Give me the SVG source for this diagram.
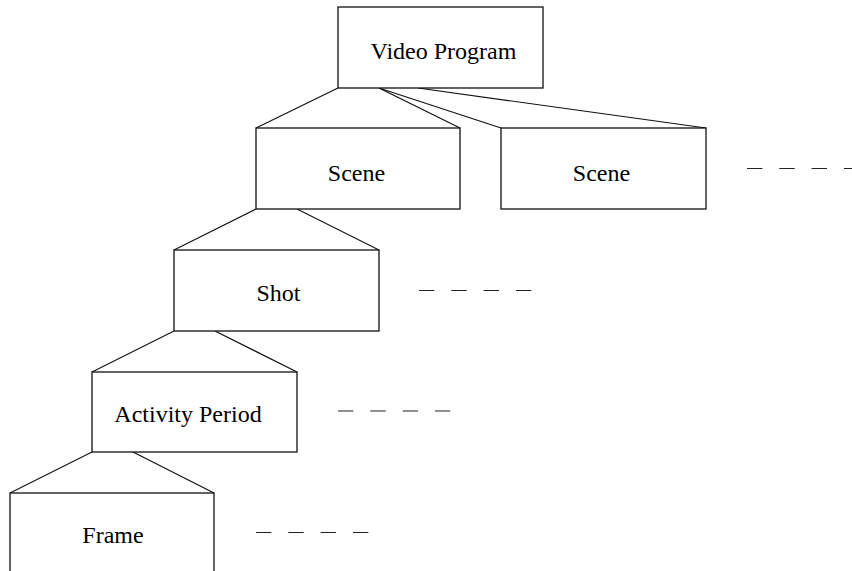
<svg xmlns="http://www.w3.org/2000/svg" width="852" height="571" viewBox="0 0 852 571">
  <style>
    .box { fill: #fff; stroke: #111; stroke-width: 1.3; }
    .link { fill: none; stroke: #111; stroke-width: 1.2; }
    .more { fill: none; stroke: #222; stroke-width: 1.2; stroke-dasharray: 15.4 16.9; }
    .label { font-family: "Liberation Serif", "Times New Roman", serif; font-size: 24px; fill: #000; }
  </style>
  <rect width="852" height="571" fill="#fff"/>

  <!-- hierarchy connectors -->
  <g id="connectors">
    <line class="link" x1="338" y1="88" x2="256" y2="128"/>
    <line class="link" x1="379" y1="88" x2="460" y2="128"/>
    <line class="link" x1="379" y1="88" x2="501" y2="128"/>
    <line class="link" x1="418" y1="88" x2="706" y2="128"/>
    <line class="link" x1="256" y1="209" x2="174" y2="250"/>
    <line class="link" x1="297" y1="209" x2="379" y2="250"/>
    <line class="link" x1="174" y1="331" x2="92" y2="372"/>
    <line class="link" x1="215" y1="331" x2="297" y2="372"/>
    <line class="link" x1="92" y1="452" x2="10" y2="493"/>
    <line class="link" x1="133" y1="452" x2="214" y2="493"/>
  </g>

  <!-- continuation marks -->
  <g id="ellipses">
    <line class="more" x1="747" y1="168.5" x2="852" y2="168.5"/>
    <line class="more" x1="419" y1="290.5" x2="533" y2="290.5"/>
    <line class="more" x1="338" y1="411" x2="452" y2="411"/>
    <line class="more" x1="256" y1="532.5" x2="370" y2="532.5"/>
  </g>

  <g id="video-program">
    <rect class="box" x="338" y="7" width="205" height="81"/>
    <text class="label" x="443.5" y="59" text-anchor="middle">Video Program</text>
  </g>
  <g id="scene-1">
    <rect class="box" x="256" y="128" width="204" height="81"/>
    <text class="label" x="356.5" y="181" text-anchor="middle">Scene</text>
  </g>
  <g id="scene-2">
    <rect class="box" x="501" y="128" width="205" height="81"/>
    <text class="label" x="601.5" y="181" text-anchor="middle">Scene</text>
  </g>
  <g id="shot">
    <rect class="box" x="174" y="250" width="205" height="81"/>
    <text class="label" x="278.5" y="301" text-anchor="middle">Shot</text>
  </g>
  <g id="activity-period">
    <rect class="box" x="92" y="372" width="205" height="80"/>
    <text class="label" x="188" y="422" text-anchor="middle">Activity Period</text>
  </g>
  <g id="frame">
    <rect class="box" x="10" y="493" width="204" height="90"/>
    <text class="label" x="113" y="543" text-anchor="middle">Frame</text>
  </g>
</svg>
